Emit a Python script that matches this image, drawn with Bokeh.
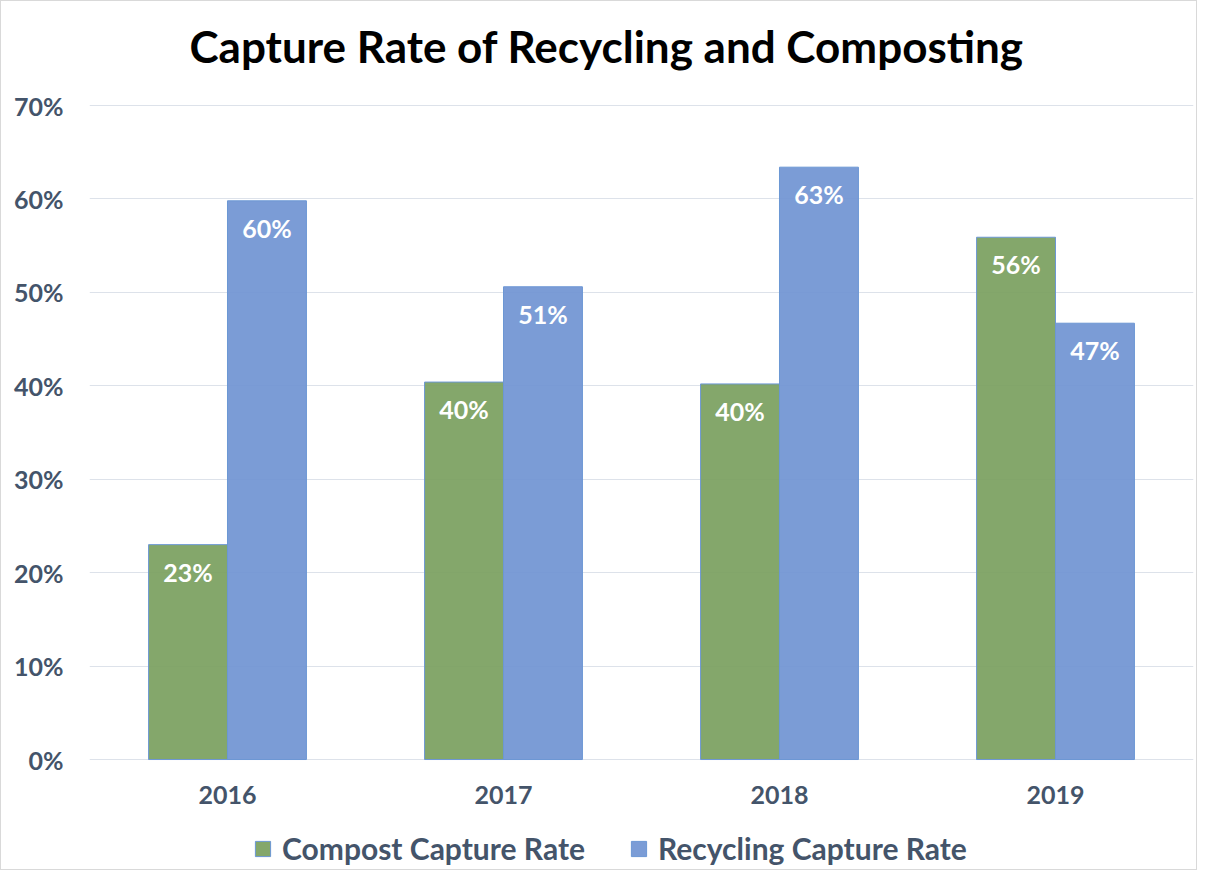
from bokeh.plotting import figure
from bokeh.models import ColumnDataSource, FactorRange, Range1d, PrintfTickFormatter, Legend, LegendItem, FixedTicker
from bokeh.transform import dodge
from bokeh.core.properties import value
from bokeh.embed import file_html
from bokeh.resources import INLINE

years = ["2016", "2017", "2018", "2019"]
compost = [23.0, 40.4, 40.2, 55.9]
recycling = [59.8, 50.6, 63.4, 46.7]
compost_labels = ["23%", "40%", "40%", "56%"]
recycling_labels = ["60%", "51%", "63%", "47%"]
y_ticks = [0, 10, 20, 30, 40, 50, 60, 70]

FONT = "Lato"
TXT = "#44546a"

src = ColumnDataSource(dict(
    years=years,
    base=[0] * len(years),
    compost=compost,
    recycling=recycling,
    cl=compost_labels,
    rl=recycling_labels,
))

# frame spans 80..865 px; 0% sits at 758 px, 70% at 104 px
p = figure(
    x_range=FactorRange(*years), y_range=Range1d(-11.45, 72.57),
    width=1197, height=870, output_backend="svg", toolbar_location=None,
    min_border_left=88, min_border_right=5, min_border_top=80, min_border_bottom=5,
)
p.styles = {"border": "1px solid #d9d9d9"}

p.title.text = "Capture Rate of Recycling and Composting"
p.title.align = "left"
p.title.offset = 100
p.title.vertical_align = "bottom"
p.title.text_font = FONT
p.title.text_font_style = "bold"
p.title.text_font_size = "44px"
p.title.text_color = "black"
p.title.standoff = 20

w = 0.286
g = p.vbar(x=dodge("years", -w / 2, range=p.x_range), top="compost", width=w, source=src,
           fill_color="#799f5e", fill_alpha=0.92, line_color="#6c97d4", line_width=1)
b = p.vbar(x=dodge("years", w / 2, range=p.x_range), top="recycling", width=w, source=src,
           fill_color="#7094d2", fill_alpha=0.92, line_color="#6c97d4", line_width=1)

p.text(x=dodge("years", -w / 2, range=p.x_range), y="compost", text="cl", source=src,
       text_align="center", text_baseline="middle", y_offset=27,
       text_color="white", text_font=value(FONT), text_font_style="bold", text_font_size="25px")
p.text(x=dodge("years", w / 2, range=p.x_range), y="recycling", text="rl", source=src,
       text_align="center", text_baseline="middle", y_offset=27,
       text_color="white", text_font=value(FONT), text_font_style="bold", text_font_size="25px")

# category labels under the baseline
p.text(x="years", y="base", text="years", source=src,
       text_align="center", text_baseline="middle", y_offset=35,
       text_color=TXT, text_font=value(FONT), text_font_style="bold", text_font_size="25px")

p.xaxis.visible = False
p.yaxis.ticker = FixedTicker(ticks=y_ticks)
p.yaxis.formatter = PrintfTickFormatter(format="%d%%")
p.yaxis.axis_line_color = None
p.yaxis.major_tick_line_color = None
p.yaxis.minor_tick_line_color = None
p.yaxis.major_label_text_font = FONT
p.yaxis.major_label_text_font_style = "bold"
p.yaxis.major_label_text_font_size = "25px"
p.yaxis.major_label_text_color = TXT
p.yaxis.major_label_standoff = 20

p.xgrid.grid_line_color = None
p.ygrid.grid_line_color = "#dde2ea"
p.ygrid.grid_line_width = 1
p.outline_line_color = None

legend = Legend(items=[
    LegendItem(label="Compost Capture Rate", renderers=[g]),
    LegendItem(label="Recycling Capture Rate", renderers=[b]),
], orientation="horizontal", location=(164, 0),
    label_text_font=FONT, label_text_font_style="bold", label_text_font_size="30px",
    label_text_color=TXT, glyph_width=19, glyph_height=19, spacing=44,
    border_line_color=None, background_fill_alpha=0, margin=0, padding=0, label_standoff=10)
p.add_layout(legend, "center")

open("out.html", "w").write(file_html(p, INLINE))
